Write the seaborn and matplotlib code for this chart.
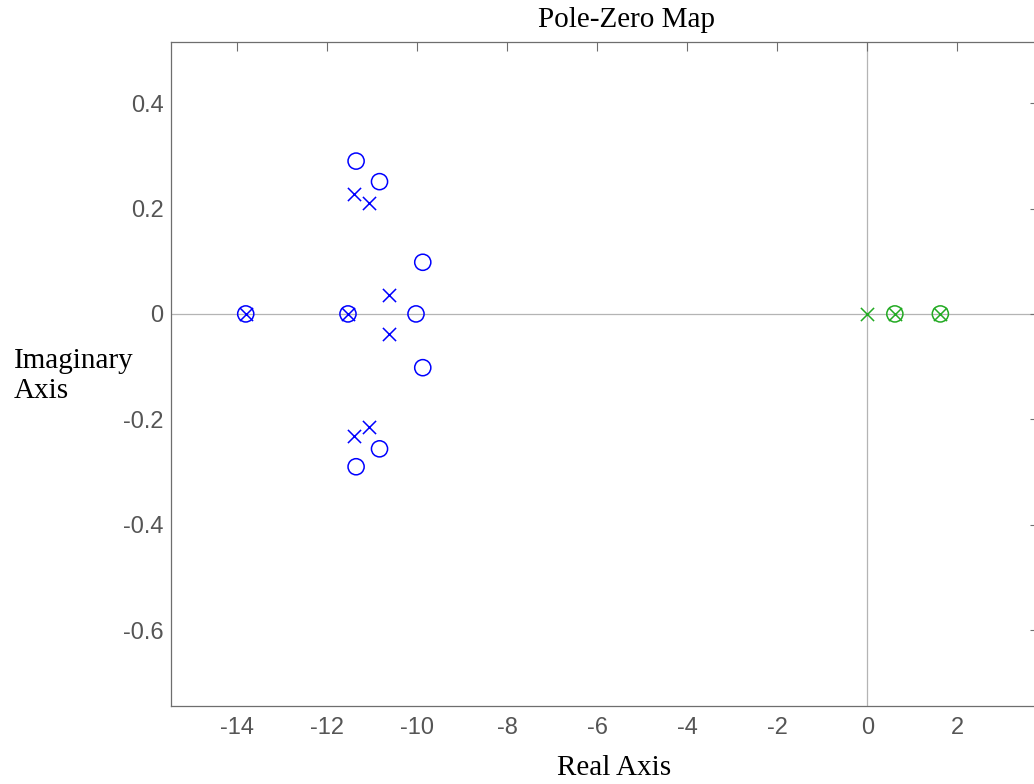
import matplotlib
matplotlib.use("Agg")
import matplotlib.pyplot as plt
import seaborn as sns
import pandas as pd

# poles (x) and zeros (o)
blue_pole_re = [-13.80, -11.53, -11.40, -11.06, -10.63, -10.63, -11.40, -11.06]
blue_pole_im = [0.0, 0.0, 0.227, 0.211, 0.035, -0.039, -0.232, -0.215]
blue_zero_re = [-13.80, -11.53, -11.35, -10.83, -9.87, -10.02, -9.87, -10.83, -11.35]
blue_zero_im = [0.0, 0.0, 0.290, 0.251, 0.098, 0.0, -0.102, -0.256, -0.290]

green_pole_re = [0.0, 0.61, 1.62]
green_pole_im = [0.0, 0.0, 0.0]
green_zero_re = [0.61, 1.62]
green_zero_im = [0.0, 0.0]

x_ticks = [-14, -12, -10, -8, -6, -4, -2, 0, 2]
y_ticks = [-0.6, -0.4, -0.2, 0, 0.2, 0.4]
y_tick_labels = ["-0.6", "-0.4", "-0.2", "0", "0.2", "0.4"]

blue = "#0000ff"
green = "#22aa22"

sns.set_style("white")
plt.rcParams["axes.unicode_minus"] = False
plt.rcParams["font.family"] = ["Liberation Sans", "DejaVu Sans"]

df_poles = pd.concat([
    pd.DataFrame({"re": blue_pole_re, "im": blue_pole_im, "sys": "blue"}),
    pd.DataFrame({"re": green_pole_re, "im": green_pole_im, "sys": "green"}),
])
df_zeros = pd.concat([
    pd.DataFrame({"re": blue_zero_re, "im": blue_zero_im, "sys": "blue"}),
    pd.DataFrame({"re": green_zero_re, "im": green_zero_im, "sys": "green"}),
])

fig = plt.figure(figsize=(10.34, 7.84), dpi=100)
ax = fig.add_axes([170.5 / 1034, 1 - 706 / 784, (1039 - 170.5) / 1034, (706 - 42) / 784])

# lineas de referencia
ax.axhline(0, color="#b4b4b4", lw=0.9, zorder=0)
ax.axvline(0, color="#b4b4b4", lw=0.9, zorder=0)

for sys_name, col in [("blue", blue), ("green", green)]:
    z = df_zeros[df_zeros["sys"] == sys_name]
    sns.scatterplot(data=z, x="re", y="im", marker="o", s=135, color=col,
                    edgecolor=col, linewidth=1.1, ax=ax, zorder=3, legend=False)
    ax.collections[-1].set_facecolor("none")
    p = df_poles[df_poles["sys"] == sys_name]
    sns.scatterplot(data=p, x="re", y="im", marker="x", s=90, color=col,
                    linewidth=1.1, ax=ax, zorder=4, legend=False)

ax.set_xlim(-15.47, 3.81)
ax.set_ylim(-0.744, 0.516)
ax.set_xticks(x_ticks)
ax.set_xticklabels([str(t) for t in x_ticks])
ax.set_yticks(y_ticks)
ax.set_yticklabels(y_tick_labels)
ax.set_xlabel("")
ax.set_ylabel("")

for s in ax.spines.values():
    s.set_color("#6e6e6e")
    s.set_linewidth(0.9)
ax.tick_params(direction="in", length=6.5, width=0.8, color="#6e6e6e",
               labelcolor="#555555", labelsize=17, top=True, right=True)
ax.tick_params(axis="x", pad=8)
ax.tick_params(axis="y", pad=5)

serif = ["Liberation Serif", "DejaVu Serif"]
fig.text(626.5 / 1034, 1 - 20 / 784, "Pole-Zero Map", ha="center", va="center",
         fontsize=21, family=serif, color="black")
fig.text(614 / 1034, 1 - 768 / 784, "Real Axis", ha="center", va="center",
         fontsize=21, family=serif, color="black")
fig.text(14 / 1034, 1 - 376 / 784, "Imaginary\nAxis", ha="left", va="center",
         fontsize=21, family=serif, color="black", multialignment="left",
         linespacing=1.15)

fig.savefig("out.png", dpi=100)
